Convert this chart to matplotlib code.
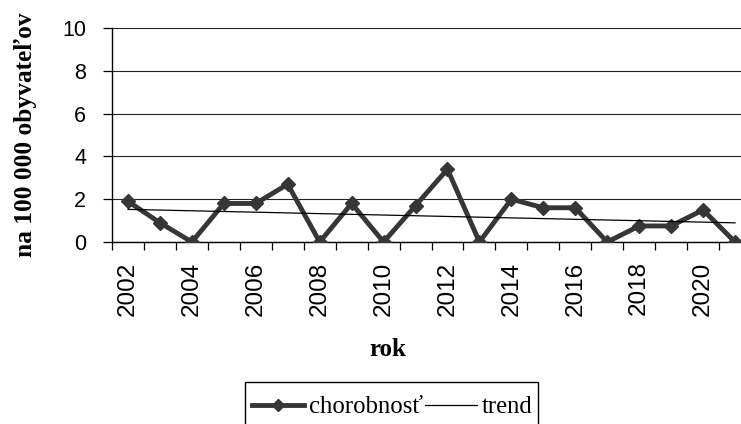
import numpy as np
import matplotlib
matplotlib.use("Agg")
import matplotlib.pyplot as plt
from matplotlib.lines import Line2D
from matplotlib.patches import Rectangle

years = list(range(2002, 2022))
chorobnost = [1.9, 0.9, 0.0, 1.8, 1.8, 2.7, 0.0, 1.8, 0.0, 1.7,
              3.4, 0.0, 2.0, 1.6, 1.6, 0.0, 0.75, 0.75, 1.5, 0.0]
y_ticks = [0, 2, 4, 6, 8, 10]
x_labels = [str(y) if (y - 2002) % 2 == 0 else "" for y in years]

W, H = 741, 424
fig = plt.figure(figsize=(W / 100, H / 100), dpi=100)
ax = fig.add_axes([112 / W, 1 - 242 / H, (751 - 112) / W, 214 / H])

x = np.arange(len(years))
line_col = "#363636"
ax.plot(x, chorobnost, color=line_col, lw=3.5, marker="D", markersize=7,
        markerfacecolor=line_col, markeredgecolor=line_col, zorder=3)

coef = np.polyfit(x, chorobnost, 1)
trend = np.polyval(coef, x)
ax.plot(x, trend, color="black", lw=0.9, zorder=4)

ax.set_xlim(-0.5, len(years) - 0.5)
ax.set_ylim(0, 10)
ax.set_yticks(y_ticks)
ax.set_yticklabels([str(v) for v in y_ticks], fontsize=15.5, family="Liberation Sans")
ax.yaxis.grid(True, color="#222222", lw=0.8)
ax.set_axisbelow(True)
ax.tick_params(axis="y", direction="out", length=6.5, width=0.9, pad=12)

ax.set_xticks(x[::2])
ax.set_xticklabels([l for l in x_labels if l], rotation=90, fontsize=17.5,
                   family="Liberation Sans", va="top")
ax.set_xticks(np.arange(-0.5, len(years) + 0.5, 1), minor=True)
ax.tick_params(axis="x", which="major", length=0, pad=14)
ax.tick_params(axis="x", which="minor", direction="out", length=6, width=0.9)

for s in ["top", "right"]:
    ax.spines[s].set_visible(False)
for s in ["left", "bottom"]:
    ax.spines[s].set_color("black")
    ax.spines[s].set_linewidth(1.0)

fig.text(26 / W, 1 - 135 / H, "na 100 000 obyvateľov", rotation=90,
         ha="center", va="center", fontsize=18.3, fontweight="bold",
         family="Liberation Serif")
fig.text(388 / W, 1 - 350 / H, "rok", ha="center", va="center",
         fontsize=18, fontweight="bold", family="Liberation Serif")

handles = [
    Line2D([], [], color=line_col, lw=3.5, marker="D", markersize=6,
           markerfacecolor=line_col, markeredgecolor=line_col),
    Line2D([], [], color="black", lw=0.9),
]
leg = fig.legend(handles, ["chorobnosť", "trend"], loc="center left",
                 bbox_to_anchor=(252 / W, 1 - 407 / H), ncol=2,
                 prop={"family": "Liberation Serif", "size": 17.8},
                 frameon=False,
                 handlelength=2.1, handletextpad=0.2, columnspacing=0.1,
                 borderpad=0, borderaxespad=0)

fig.patches.append(Rectangle((245 / W, -0.05), (538 - 245) / W,
                             (1 - 382 / H) + 0.05, transform=fig.transFigure,
                             fill=False, edgecolor="black", lw=1.0,
                             figure=fig))

fig.savefig("out.png", dpi=100)
